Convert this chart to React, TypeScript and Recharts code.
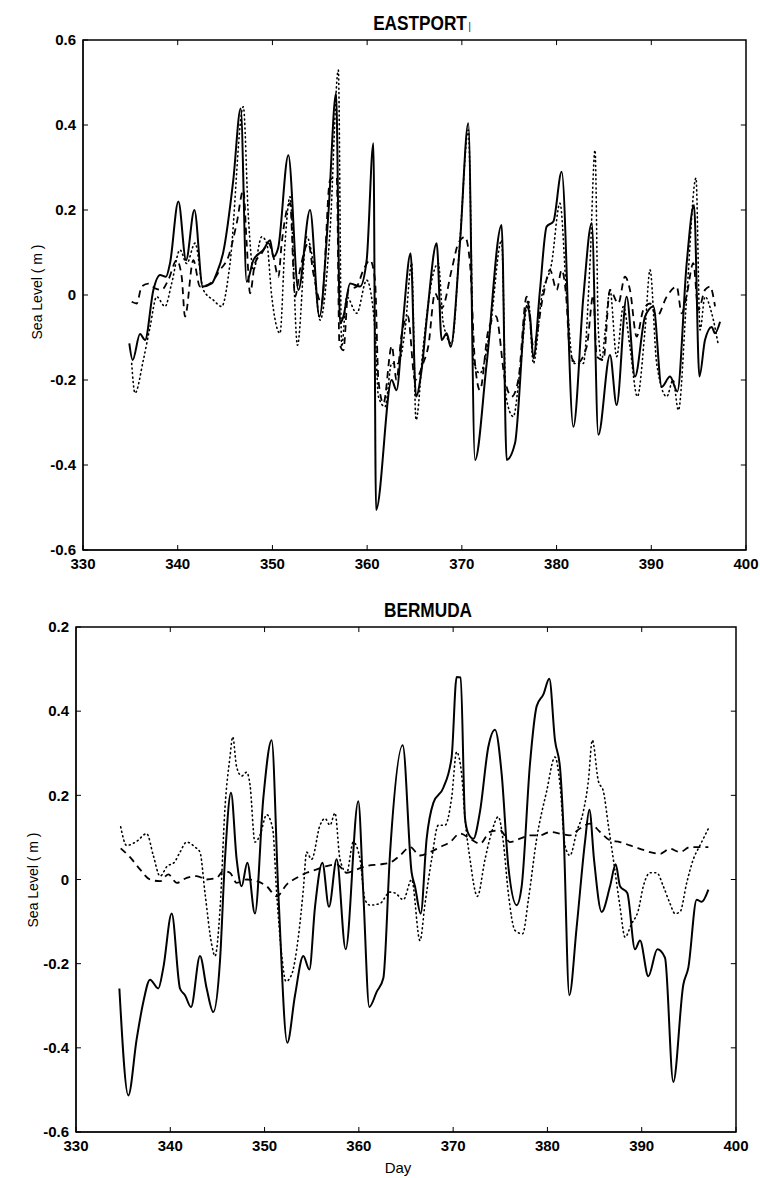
import React from 'react';
import { LineChart, Line, XAxis, YAxis, ReferenceArea, ReferenceLine } from 'recharts';

// x ticks (day) and y ticks (sea level, m)
const dayTicks = [330, 340, 350, 360, 370, 380, 390, 400];
const levelTicks = [-0.6, -0.4, -0.2, 0, 0.2, 0.4, 0.6];
const eastportYLabels = ['-0.6', '-0.4', '-0.2', '0', '0.2', '0.4', '0.6'];
// the top label of the lower panel reads 0.2 in the original
const bermudaYLabels = ['-0.6', '-0.4', '-0.2', '0', '0.2', '0.4', '0.2'];

// [day, sea level]
const eastportSolid = [
    [334.89, -0.114], [335.24, -0.153], [336.02, -0.092], [336.55, -0.106], [337.43, 0.012],
    [338.13, 0.047], [338.76, 0.043], [339.19, 0.075], [340.07, 0.22], [340.88, 0.082],
    [341.76, 0.2], [342.64, 0.02], [343.59, 0.027], [344.11, 0.051], [344.82, 0.102],
    [345.87, 0.271], [346.65, 0.439], [347.28, 0.031], [347.99, 0.082], [349.04, 0.106],
    [349.75, 0.129], [350.1, 0.09], [350.6, 0.11], [351.68, 0.329], [352.74, 0.012],
    [353.97, 0.2], [354.96, -0.051], [355.91, 0.192], [356.72, 0.475], [357.14, -0.067],
    [357.49, -0.051], [358.2, 0.027], [359.25, 0.02], [359.95, 0.082], [360.66, 0.357],
    [360.94, -0.506], [362.59, -0.2], [363.1, -0.224], [363.8, -0.059], [364.59, 0.098],
    [365.16, -0.239], [365.75, -0.176], [366.35, -0.043], [367.34, 0.122], [367.87, -0.106],
    [368.4, -0.09], [368.82, -0.122], [369.8, 0.122], [370.68, 0.404], [371.39, -0.388],
    [372.62, -0.161], [374.2, 0.165], [374.73, -0.388], [375.61, -0.349], [376.84, -0.027],
    [377.2, -0.051], [377.55, -0.149], [378.25, 0.012], [378.95, 0.161], [379.66, 0.173],
    [380.54, 0.29], [381.77, -0.31], [382.83, -0.004], [383.71, 0.169], [384.41, -0.329],
    [385.64, -0.141], [386.34, -0.259], [387.4, -0.004], [388.28, -0.192], [389.34, -0.051],
    [390.22, -0.027], [391.1, -0.216], [391.98, -0.192], [392.75, -0.227], [393.74, 0.075],
    [394.51, 0.212], [395.08, -0.192], [395.67, -0.106], [396.38, -0.075], [396.73, -0.09],
    [397.26, -0.063],
];

const eastportDashed = [
    [335.14, -0.016], [335.67, -0.02], [336.2, 0.02], [336.9, 0.027], [337.6, 0.016],
    [338.3, 0.012], [339.0, 0.035], [339.9, 0.082], [340.42, 0.043], [340.77, -0.051],
    [341.65, 0.082], [342.35, 0.02], [343.41, 0.027], [344.47, 0.059], [345.35, 0.09],
    [346.23, 0.169], [346.93, 0.247], [347.28, 0.122], [347.64, 0.004], [348.16, 0.075],
    [348.87, 0.098], [349.57, 0.122], [350.1, 0.09], [350.63, 0.043], [350.98, 0.122],
    [351.86, 0.216], [352.39, -0.004], [352.91, 0.059], [353.79, 0.122], [354.32, 0.051],
    [355.2, -0.02], [356.09, 0.271], [356.79, 0.278], [357.07, -0.114], [357.49, -0.13],
    [358.02, 0.012], [358.9, 0.02], [359.6, 0.059], [360.31, 0.082], [360.83, 0.035],
    [361.19, -0.2], [361.72, -0.255], [362.6, -0.12], [363.1, -0.2], [363.6, -0.1],
    [364.3, -0.05], [365.05, -0.2], [365.93, -0.16], [366.46, -0.12], [367.16, 0.004],
    [367.9, -0.03], [368.92, 0.059], [369.63, 0.122], [370.33, 0.137], [370.86, 0.074],
    [371.39, -0.161], [371.91, -0.224], [372.8, -0.082], [373.6, -0.05], [374.55, -0.2],
    [375.26, -0.239], [375.96, -0.2], [376.84, -0.004], [377.55, -0.12], [378.6, 0.0],
    [379.3, 0.059], [380.01, 0.012], [380.54, 0.059], [381.0, 0.0], [381.42, -0.137],
    [382.12, -0.161], [383.18, -0.122], [383.88, 0.0], [384.23, -0.145], [384.94, -0.153],
    [385.64, 0.012], [386.52, -0.02], [387.22, 0.043], [387.75, 0.012], [388.46, -0.098],
    [389.16, -0.035], [389.87, -0.02], [390.57, -0.051], [391.63, -0.004], [392.68, 0.02],
    [393.21, -0.043], [393.74, 0.0], [394.44, 0.075], [394.97, -0.035], [395.67, 0.012],
    [396.2, 0.02], [396.73, -0.027],
];

const eastportDotted = [
    [335.14, -0.161], [335.49, -0.231], [336.37, -0.153], [337.08, -0.075], [337.78, -0.004],
    [338.66, -0.027], [339.36, 0.027], [340.24, 0.106], [340.95, 0.074], [341.83, 0.122],
    [342.71, 0.012], [343.77, -0.012], [344.64, -0.027], [345.52, 0.074], [346.93, 0.443],
    [347.46, 0.184], [347.99, 0.059], [348.87, 0.137], [349.4, 0.122], [349.93, -0.004],
    [350.8, -0.09], [351.33, 0.122], [351.86, 0.231], [352.64, -0.118], [353.62, 0.137],
    [354.32, 0.074], [355.03, -0.059], [356.09, 0.153], [356.96, 0.529], [357.31, -0.122],
    [357.84, -0.004], [358.9, -0.043], [359.95, 0.035], [360.83, -0.082], [361.19, -0.239],
    [361.89, -0.263], [362.59, -0.161], [363.29, -0.161], [364.0, -0.082], [364.7, 0.075],
    [365.16, -0.294], [365.93, -0.12], [366.99, 0.051], [367.51, 0.075], [368.04, -0.067],
    [368.92, -0.114], [369.8, 0.129], [370.68, 0.388], [371.28, -0.161], [371.91, -0.184],
    [372.97, -0.082], [374.2, 0.129], [374.66, -0.239], [375.43, -0.286], [376.14, -0.176],
    [377.02, -0.012], [377.55, -0.161], [378.43, -0.004], [379.48, 0.075], [380.36, 0.216],
    [381.07, -0.004], [381.77, -0.161], [382.82, -0.161], [383.53, 0.075], [384.06, 0.341],
    [384.41, -0.082], [384.76, -0.153], [385.11, -0.09], [385.64, 0.012], [386.34, -0.145],
    [387.05, -0.027], [387.75, -0.122], [388.53, -0.239], [389.34, -0.082], [389.87, 0.059],
    [390.57, -0.161], [391.63, -0.239], [392.3, -0.2], [392.86, -0.271], [393.74, -0.004],
    [394.72, 0.275], [395.15, -0.082], [395.67, -0.004], [396.38, -0.043], [397.08, -0.118],
];

const bermudaSolid = [
    [334.6, -0.259], [335.55, -0.513], [336.43, -0.38], [337.14, -0.291], [337.85, -0.238],
    [338.73, -0.259], [339.26, -0.21], [340.15, -0.081], [341.03, -0.259], [341.56, -0.275],
    [342.2, -0.303], [343.15, -0.182], [343.86, -0.259], [344.56, -0.315], [345.27, -0.194],
    [345.8, 0.048], [346.44, 0.206], [347.04, 0.048], [347.57, -0.016], [348.17, 0.04],
    [348.98, -0.081], [349.87, 0.194], [350.75, 0.331], [351.46, -0.032], [352.41, -0.388],
    [353.23, -0.275], [354.11, -0.182], [354.75, -0.214], [355.35, -0.065], [356.13, 0.04],
    [356.83, -0.065], [357.65, 0.048], [358.6, -0.166], [359.94, 0.186], [360.47, -0.032],
    [361.11, -0.303], [361.89, -0.267], [362.6, -0.234], [363.3, 0.06], [364.65, 0.319],
    [365.6, 0.016], [365.95, -0.016], [366.56, -0.081], [367.19, 0.097], [367.9, 0.182],
    [368.96, 0.218], [369.84, 0.291], [370.37, 0.481], [370.8, 0.48], [371.26, 0.145],
    [371.61, 0.109], [372.14, 0.097], [372.85, 0.162], [373.73, 0.315], [374.44, 0.356],
    [375.15, 0.25], [375.85, 0.032], [376.74, -0.061], [377.27, -0.016], [378.15, 0.275],
    [378.86, 0.412], [379.57, 0.44], [380.2, 0.477], [380.8, 0.331], [381.33, 0.267],
    [381.69, 0.129], [382.32, -0.275], [383.1, -0.113], [383.98, 0.089], [384.45, 0.166],
    [384.94, 0.048], [385.75, -0.077], [386.64, -0.016], [387.24, 0.036], [387.7, -0.016],
    [388.47, -0.032], [389.29, -0.166], [389.82, -0.145], [390.7, -0.23], [391.66, -0.166],
    [392.47, -0.186], [393.35, -0.481], [394.41, -0.25], [394.94, -0.21], [395.83, -0.048],
    [396.36, -0.053], [397.07, -0.024],
];

const bermudaDashed = [
    [334.74, 0.074], [335.73, 0.053], [336.79, 0.024], [337.85, 0.0], [338.91, -0.004],
    [339.79, 0.012], [340.68, -0.008], [341.74, 0.004], [342.8, 0.008], [343.86, 0.0],
    [344.92, 0.004], [345.63, 0.02], [346.33, 0.016], [347.04, -0.008], [348.1, 0.0],
    [349.16, -0.004], [350.22, -0.016], [351.28, -0.04], [352.34, -0.012], [353.4, 0.004],
    [354.46, 0.016], [355.53, 0.024], [356.59, 0.032], [357.65, 0.036], [358.71, 0.016],
    [359.77, 0.024], [360.83, 0.032], [362.24, 0.036], [363.3, 0.04], [364.36, 0.057],
    [365.43, 0.077], [366.48, 0.057], [367.55, 0.065], [368.61, 0.077], [369.67, 0.089],
    [370.73, 0.109], [371.79, 0.097], [372.85, 0.085], [373.91, 0.113], [374.97, 0.117],
    [376.03, 0.089], [377.09, 0.097], [378.15, 0.105], [379.21, 0.105], [380.27, 0.113],
    [381.33, 0.109], [382.39, 0.105], [383.45, 0.121], [384.52, 0.133], [385.58, 0.113],
    [386.64, 0.093], [387.7, 0.089], [388.76, 0.081], [389.82, 0.073], [390.88, 0.065],
    [391.94, 0.061], [393.0, 0.073], [394.06, 0.065], [395.12, 0.077], [396.18, 0.077],
    [397.07, 0.077],
];

const bermudaDotted = [
    [334.74, 0.125], [335.37, 0.081], [336.4, 0.09], [337.5, 0.109], [338.2, 0.057],
    [338.91, 0.008], [339.69, 0.032], [340.4, 0.04], [341.03, 0.065], [341.74, 0.089],
    [342.62, 0.077], [343.15, 0.065], [343.68, -0.032], [344.39, -0.154], [344.74, -0.182],
    [345.27, -0.073], [345.8, 0.17], [346.33, 0.291], [346.62, 0.339], [347.04, 0.267],
    [347.57, 0.246], [348.1, 0.255], [348.45, 0.226], [348.98, 0.089], [349.51, 0.105],
    [350.22, 0.154], [350.86, 0.121], [351.28, -0.032], [351.81, -0.178], [352.27, -0.242],
    [352.87, -0.226], [353.58, -0.137], [354.11, -0.024], [354.46, 0.065], [354.99, 0.048],
    [355.88, 0.129], [356.41, 0.145], [356.94, 0.129], [357.47, 0.158], [358.0, 0.048],
    [358.71, 0.016], [359.41, 0.089], [360.12, 0.048], [360.65, -0.048], [361.18, -0.061],
    [362.24, -0.057], [363.3, -0.03], [363.83, -0.032], [364.72, -0.048], [365.6, 0.0],
    [366.48, -0.145], [367.02, -0.057], [367.72, 0.048], [368.43, 0.129], [369.14, 0.129],
    [369.84, 0.194], [370.37, 0.303], [370.9, 0.25], [371.26, 0.145], [371.79, 0.048],
    [372.57, -0.04], [373.38, 0.048], [374.09, 0.113], [374.79, 0.149], [375.32, 0.089],
    [375.85, -0.032], [376.56, -0.121], [377.37, -0.129], [377.98, -0.048], [378.86, 0.097],
    [379.92, 0.21], [380.8, 0.291], [381.33, 0.226], [381.86, 0.081], [382.39, 0.057],
    [383.1, 0.113], [383.81, 0.162], [384.34, 0.234], [384.76, 0.331], [385.4, 0.234],
    [385.93, 0.21], [386.46, 0.129], [386.99, 0.048], [387.7, -0.065], [388.23, -0.137],
    [388.93, -0.105], [389.64, -0.073], [390.17, -0.016], [390.88, 0.016], [391.59, 0.016],
    [392.29, -0.016], [393.0, -0.057], [393.53, -0.081], [394.06, -0.077], [394.77, -0.008],
    [395.47, 0.048], [396.18, 0.081], [397.07, 0.121],
];

const toPoints = (rows: number[][]) => rows.map(([d, v]) => ({ d, v }));

const tickFont = {
    fontFamily: "'Liberation Sans', Arial, sans-serif",
    fontSize: 15,
    fontWeight: 'bold' as const,
    fill: '#000',
};

interface PanelProps {
    top: number;
    height: number;
    margin: { top: number; right: number; left: number; bottom: number };
    yAxisWidth: number;
    xAxisHeight: number;
    yLabels: string[];
    solid: number[][];
    dashed: number[][];
    dotted: number[][];
}

const Panel = ({ top, height, margin, yAxisWidth, xAxisHeight, yLabels, solid, dashed, dotted }: PanelProps) => (
    <div style={{ position: 'absolute', left: 0, top }}>
        <LineChart width={760} height={height} margin={margin}>
            <XAxis
                dataKey="d"
                type="number"
                domain={[330, 400]}
                ticks={dayTicks}
                interval={0}
                height={xAxisHeight}
                tickSize={-5}
                tickMargin={13}
                stroke="#000"
                tick={tickFont}
                allowDataOverflow
            />
            <YAxis
                type="number"
                domain={[-0.6, 0.6]}
                ticks={levelTicks}
                interval={0}
                width={yAxisWidth}
                tickSize={-5}
                tickMargin={12}
                stroke="#000"
                tick={tickFont}
                tickFormatter={(_v: number, i: number) => yLabels[i]}
                allowDataOverflow
            />
            {/* box around the plot, with the mirrored tick marks on top and right */}
            <ReferenceArea x1={330} x2={400} y1={-0.6} y2={0.6} fill="none" stroke="#000" strokeWidth={1.5} />
            {dayTicks.slice(1, -1).map((t) => (
                <ReferenceLine key={`tx${t}`} segment={[{ x: t, y: 0.6 }, { x: t, y: 0.588 }]} stroke="#000" />
            ))}
            {levelTicks.slice(1, -1).map((t) => (
                <ReferenceLine key={`ty${t}`} segment={[{ x: 400, y: t }, { x: 399.45, y: t }]} stroke="#000" />
            ))}
            <Line data={toPoints(dotted)} dataKey="v" type="monotone" stroke="#000" strokeWidth={1.6}
                strokeDasharray="1 3.5" strokeLinecap="round" dot={false} isAnimationActive={false} />
            <Line data={toPoints(dashed)} dataKey="v" type="monotone" stroke="#000" strokeWidth={1.8}
                strokeDasharray="7 5" dot={false} isAnimationActive={false} />
            <Line data={toPoints(solid)} dataKey="v" type="monotone" stroke="#000" strokeWidth={2}
                dot={false} isAnimationActive={false} />
        </LineChart>
    </div>
);

const titleStyle: React.CSSProperties = {
    position: 'absolute',
    fontFamily: "'Liberation Sans', Arial, sans-serif",
    fontWeight: 'bold',
    fontSize: 21,
    lineHeight: '21px',
    color: '#000',
    transform: 'translateX(-50%) scaleX(0.82)',
    whiteSpace: 'nowrap',
};

const yTitleStyle: React.CSSProperties = {
    position: 'absolute',
    fontFamily: "'Liberation Sans', Arial, sans-serif",
    fontSize: 14,
    lineHeight: '14px',
    color: '#000',
    whiteSpace: 'nowrap',
    transform: 'translate(-50%, -50%) rotate(-90deg)',
};

const App = () => (
    <div style={{ position: 'absolute', left: 0, top: 0, width: 760, height: 1178, background: '#fff' }}>
        <Panel
            top={0}
            height={580}
            margin={{ top: 40, right: 14, left: 0, bottom: 0 }}
            yAxisWidth={83}
            xAxisHeight={30}
            yLabels={eastportYLabels}
            solid={eastportSolid}
            dashed={eastportDashed}
            dotted={eastportDotted}
        />
        <Panel
            top={590}
            height={588}
            margin={{ top: 37, right: 24, left: 0, bottom: 0 }}
            yAxisWidth={76}
            xAxisHeight={46}
            yLabels={bermudaYLabels}
            solid={bermudaSolid}
            dashed={bermudaDashed}
            dotted={bermudaDotted}
        />
        <div style={{ ...titleStyle, left: 422, top: 12 }}>
            EASTPORT<span style={{ fontSize: 11, fontWeight: 'normal', marginLeft: 2 }}>|</span>
        </div>
        <div style={{ ...titleStyle, left: 428, top: 599 }}>BERMUDA</div>
        <div style={{ ...yTitleStyle, left: 37, top: 292 }}>Sea Level ( m )</div>
        <div style={{ ...yTitleStyle, left: 33, top: 880 }}>Sea Level ( m )</div>
        <div style={{
            position: 'absolute', left: 398, top: 1160, transform: 'translateX(-50%)',
            fontFamily: "'Liberation Sans', Arial, sans-serif", fontSize: 15, lineHeight: '15px', color: '#000',
        }}>
            Day
        </div>
    </div>
);

export default App;
